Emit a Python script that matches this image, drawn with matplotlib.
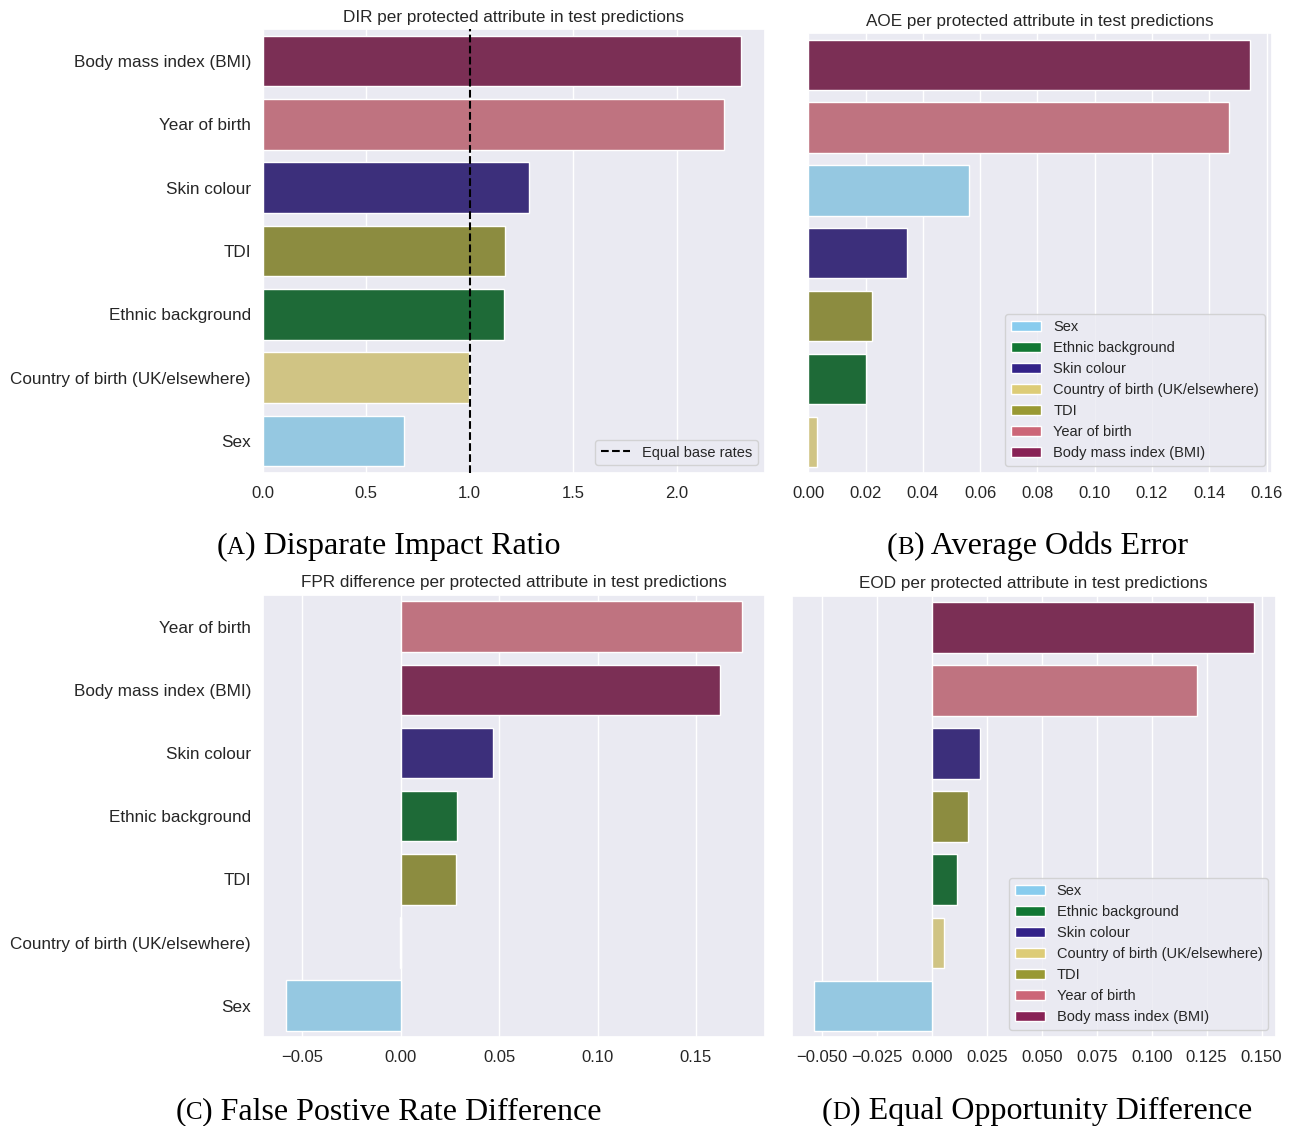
import matplotlib
matplotlib.use("Agg")
import matplotlib.pyplot as plt
import seaborn as sns
from matplotlib.patches import Patch
from matplotlib.lines import Line2D

# Protected attributes (legend order) and their colours
attributes = [
    "Sex",
    "Ethnic background",
    "Skin colour",
    "Country of birth (UK/elsewhere)",
    "TDI",
    "Year of birth",
    "Body mass index (BMI)",
]
palette = ["#88CCEE", "#117733", "#332288", "#DDCC77", "#999933", "#CC6677", "#882255"]

# Fairness metrics per attribute, same order as `attributes`
dir_values = [0.683, 1.166, 1.287, 0.996, 1.171, 2.230, 2.312]
aoe_values = [0.0560, 0.0203, 0.0343, 0.0031, 0.0224, 0.1468, 0.1542]
fpr_values = [-0.0586, 0.0287, 0.0466, -0.0006, 0.0282, 0.1735, 0.1620]
eod_values = [-0.0537, 0.0116, 0.0219, 0.0056, 0.0163, 0.1204, 0.1464]

sns.set_theme(style="darkgrid")
plt.rcParams["font.family"] = ["Liberation Sans", "DejaVu Sans"]
plt.rcParams["text.color"] = "#262626"

W, H = 1298, 1126
fig = plt.figure(figsize=(W / 100, H / 100), dpi=100)

bar_colors = [sns.desaturate(c, 0.75) for c in palette]


def px_axes(left, top, right, bottom):
    return fig.add_axes([left / W, 1 - bottom / H, (right - left) / W, (bottom - top) / H])


def draw_panel(ax, values, title, show_labels):
    n = len(values)
    order = sorted(range(n), key=lambda i: values[i], reverse=True)
    ax.barh(range(n), [values[i] for i in order], height=0.8,
            color=[bar_colors[i] for i in order], edgecolor="white", linewidth=1.0, zorder=2)
    ax.set_ylim(n - 0.5, -0.5)
    ax.set_yticks(range(n))
    if show_labels:
        ax.set_yticklabels([attributes[i] for i in order])
    else:
        ax.set_yticklabels([])
    ax.grid(axis="y", visible=False)
    ax.tick_params(axis="y", labelsize=12.3, pad=8.5, length=0)
    ax.tick_params(axis="x", labelsize=12, pad=9.5, length=0)
    ax.set_title(title, fontsize=12.3, pad=5.5)


def attribute_legend(ax):
    handles = [Patch(facecolor=c, edgecolor="white", label=a) for a, c in zip(attributes, palette)]
    ax.legend(handles=handles, loc="lower right", fontsize=10.5, handlelength=2.1,
              handletextpad=0.8, labelspacing=0.48)


ax_a = px_axes(262.7, 29.3, 765, 472.7)
draw_panel(ax_a, dir_values, "DIR per protected attribute in test predictions", True)
ax_a.axvline(1.0, color="black", linestyle="--", linewidth=1.5, zorder=3)
ax_a.legend(handles=[Line2D([0], [0], color="black", linestyle="--", linewidth=1.5,
                            label="Equal base rates")],
            loc="lower right", fontsize=10.5)

ax_b = px_axes(808.3, 33.3, 1272, 473.3)
draw_panel(ax_b, aoe_values, "AOE per protected attribute in test predictions", False)
attribute_legend(ax_b)

ax_c = px_axes(262.7, 595, 765, 1037.3)
draw_panel(ax_c, fpr_values, "FPR difference per protected attribute in test predictions", True)

ax_d = px_axes(791.7, 596, 1275.7, 1037.3)
draw_panel(ax_d, eod_values, "EOD per protected attribute in test predictions", False)
attribute_legend(ax_d)


def caption(cx, baseline, letter, rest, size=23):
    parts = [("(", size), (letter, size * 0.78), (") " + rest, size)]
    texts = [fig.text(0, 1 - baseline / H, s, fontsize=fs, family="Liberation Serif",
                      va="baseline", ha="left", color="black") for s, fs in parts]
    fig.canvas.draw()
    renderer = fig.canvas.get_renderer()
    widths = [t.get_window_extent(renderer).width for t in texts]
    x = cx - sum(widths) / 2
    for t, w in zip(texts, widths):
        t.set_x(x / W)
        x += w


caption(388.5, 554, "A", "Disparate Impact Ratio")
caption(1037.5, 554, "B", "Average Odds Error")
caption(388.5, 1119, "C", "False Postive Rate Difference")
caption(1037, 1119, "D", "Equal Opportunity Difference")

fig.savefig("out.png", dpi=100)
